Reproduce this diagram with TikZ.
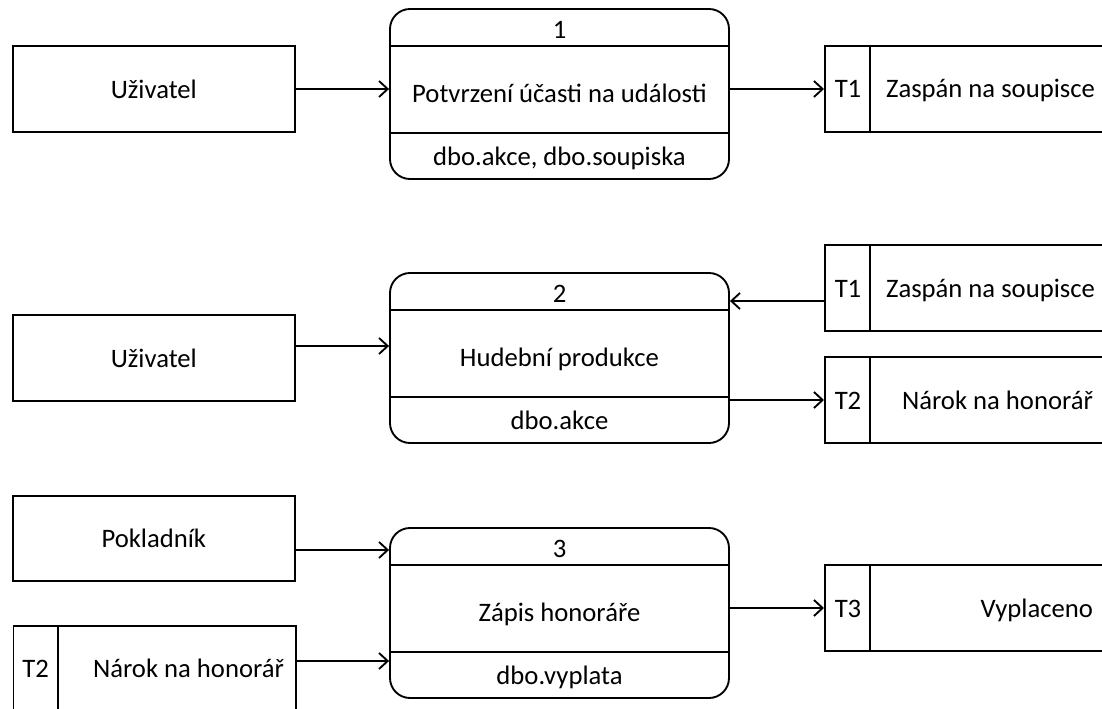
\documentclass[tikz,border=0pt]{standalone}
\usepackage{fontspec}
\setmainfont{Carlito}
\usetikzlibrary{arrows.meta}

\begin{document}
\begin{tikzpicture}[x = 0.75pt, y = -0.75pt, >= {Straight Barb[length=6.5pt, width=12pt]},
    line width = 1.4pt, font = \fontsize{20}{24}\selectfont,
    entity/.style = {draw, minimum width = 211.8pt, minimum height = 64pt},
    process/.style = {draw, rounded corners = 15pt, minimum width = 254.25pt, minimum height = 127.5pt},
    store/.style = {draw, minimum height = 64pt, anchor = west},
    lbl/.style = {inner sep = 0pt, anchor = base}]
    \useasboundingbox (0, 0) rectangle (1102, 709);
    \clip (0, 0) rectangle (1102, 709);

    % proces 1
    \node [entity] (uziv1) at (153.8, 89) {Uživatel};
    \node [process] (proc1) at (559.5, 94) {};
    \draw ([yshift = -28.5pt]proc1.north west) -- ([yshift = -28.5pt]proc1.north east);
    \draw ([yshift = -93.75pt]proc1.north west) -- ([yshift = -93.75pt]proc1.north east);
    \node [lbl] (num1) at ([yshift = -22.5pt]proc1.north) {1};
    \node [lbl] (name1) at ([yshift = -70.5pt]proc1.north) {Potvrzení účasti na události};
    \node [lbl] (db1) at ([yshift = -117.75pt]proc1.north) {dbo.akce, dbo.soupiska};
    \node [store, minimum width = 213pt] (st1) at (824, 89) {};
    \draw ([xshift = 34.5pt]st1.north west) -- ([xshift = 34.5pt]st1.south west);
    \node [lbl] (id1) at ([xshift = 18pt, yshift = -6.75pt]st1.west) {T1};
    \node [lbl, anchor = base east] (sn1) at ([xshift = -10.5pt, yshift = -6.75pt]st1.east) {Zaspán na soupisce};

    \draw [->] (uziv1.east) -- (uziv1.east -| proc1.west);
    \draw [->] (st1.west -| proc1.east) -- (st1.west);

    %%%%%%%%%%%%%%%%%%%%
    % proces 2
    \node [entity] (uziv2) at (153.8, 358) {Uživatel};
    \node [process] (proc2) at (559.5, 358) {};
    \draw ([yshift = -28.5pt]proc2.north west) -- ([yshift = -28.5pt]proc2.north east);
    \draw ([yshift = -93.75pt]proc2.north west) -- ([yshift = -93.75pt]proc2.north east);
    \node [lbl] (num2) at ([yshift = -22.5pt]proc2.north) {2};
    \node [lbl] (name2) at ([yshift = -70.5pt]proc2.north) {Hudební produkce};
    \node [lbl] (db2) at ([yshift = -117.75pt]proc2.north) {dbo.akce};
    \node [store, minimum width = 213pt] (st2a) at (824, 288) {};
    \draw ([xshift = 34.5pt]st2a.north west) -- ([xshift = 34.5pt]st2a.south west);
    \node [lbl] (id2a) at ([xshift = 18pt, yshift = -6.75pt]st2a.west) {T1};
    \node [lbl, anchor = base east] (sn2a) at ([xshift = -10.5pt, yshift = -6.75pt]st2a.east) {Zaspán na soupisce};
    \node [store, minimum width = 213pt] (st2b) at (824, 400) {};
    \draw ([xshift = 34.5pt]st2b.north west) -- ([xshift = 34.5pt]st2b.south west);
    \node [lbl] (id2b) at ([xshift = 18pt, yshift = -6.75pt]st2b.west) {T2};
    \node [lbl, anchor = base east] (sn2b) at ([xshift = -12pt, yshift = -6.75pt]st2b.east) {Nárok na honorář};

    \draw [->] ([yshift = 9pt]uziv2.east) -- ([yshift = 9pt]uziv2.east -| proc2.west);
    \draw [->] ([yshift = -9.75pt]st2a.west) -- ([yshift = -9.75pt]st2a.west -| proc2.east);
    \draw [->] (st2b.west -| proc2.east) -- (st2b.west);

    %%%%%%%%%%%%%%%%%%%%
    % proces 3
    \node [entity] (pokl) at (153.8, 538.5) {Pokladník};
    \node [process] (proc3) at (559.5, 613) {};
    \draw ([yshift = -28.5pt]proc3.north west) -- ([yshift = -28.5pt]proc3.north east);
    \draw ([yshift = -93.75pt]proc3.north west) -- ([yshift = -93.75pt]proc3.north east);
    \node [lbl] (num3) at ([yshift = -22.5pt]proc3.north) {3};
    \node [lbl] (name3) at ([yshift = -70.5pt]proc3.north) {Zápis honoráře};
    \node [lbl] (db3) at ([yshift = -117.75pt]proc3.north) {dbo.vyplata};
    \node [store, minimum width = 211.8pt] (st3a) at (12.6, 668.5) {};
    \draw ([xshift = 33.75pt]st3a.north west) -- ([xshift = 33.75pt]st3a.south west);
    \node [lbl] (id3a) at ([xshift = 17.25pt, yshift = -6.75pt]st3a.west) {T2};
    \node [lbl, anchor = base east] (sn3a) at ([xshift = -9pt, yshift = -6.75pt]st3a.east) {Nárok na honorář};
    \node [store, minimum width = 213pt] (st3b) at (824, 608) {};
    \draw ([xshift = 34.5pt]st3b.north west) -- ([xshift = 34.5pt]st3b.south west);
    \node [lbl] (id3b) at ([xshift = 18pt, yshift = -6.75pt]st3b.west) {T3};
    \node [lbl, anchor = base east] (sn3b) at ([xshift = -12pt, yshift = -6.75pt]st3b.east) {Vyplaceno};

    \draw [->] ([yshift = -8.625pt]pokl.east) -- ([yshift = -8.625pt]pokl.east -| proc3.west);
    \draw [->] ([yshift = 5.625pt]st3a.east) -- ([yshift = 5.625pt]st3a.east -| proc3.west);
    \draw [->] (st3b.west -| proc3.east) -- (st3b.west);
\end{tikzpicture}
\end{document}
